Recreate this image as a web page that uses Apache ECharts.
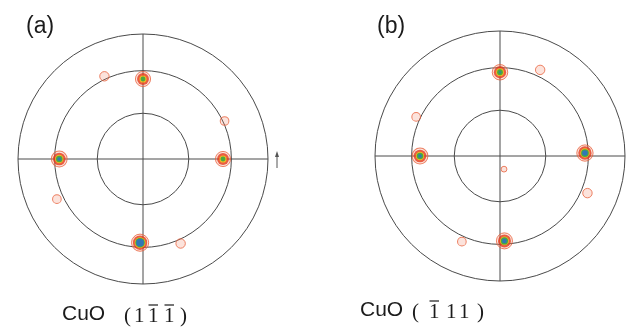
<!DOCTYPE html>
<html><head><meta charset="utf-8">
<script src="https://cdn.jsdelivr.net/npm/echarts@6/dist/echarts.min.js"></script>
<style>html,body{margin:0;padding:0;background:#fff}#c{width:631px;height:333px}</style>
</head><body><div id="c"></div>
<script>
// Pole figure (a): CuO (1 -1 -1) — radius in equal-area projected units (outer circle = 1), angle in degrees
const spotsA_r = [0.64, 0.67, 0.64, 0.67, 0.73, 0.72, 0.76, 0.74];
const spotsA_angle = [90, 180, 0, 268, 115, 25, 205, 294];
const spotsA_intensity = [6, 7, 6, 10, 2, 1.8, 1.8, 2];
// Pole figure (b): CuO (-1 1 1)
const spotsB_r = [0.67, 0.64, 0.68, 0.68, 0.76, 0.74, 0.76, 0.75, 0.11];
const spotsB_angle = [90, 180, 2, 273, 65, 155, 337, 246, 287];
const spotsB_intensity = [6.5, 7, 8, 7.5, 2, 1.8, 2, 1.8, 1.3];
// reference circles: psi = 90, 60, 30 deg in equal-area projection
const ringRadii = [1, 0.707, 0.366];
const panelLabels = ['(a)', '(b)'];
const compoundLabel = 'CuO';
// Miller indices: digits and whether each carries an overbar
const planeDigitsA = ['1', '1', '1'];
const planeBarsA = [false, true, true];
const planeDigitsB = ['1', '1', '1'];
const planeBarsB = [true, false, false];
// contour levels and colours
const contourLevels = [1, 2, 4, 5, 6.3];
const contourColors = ['rgba(242,128,98,0.28)', '#e5391c', '#f0cf1a', '#22a548', '#2b6ad2'];

const OUTER = 125;
const centers = [[143, 159], [500, 156]];
const sigma = 4;

const polar = [], angleAxis = [], radiusAxis = [], series = [];
const sets = [
  {r: spotsA_r, a: spotsA_angle, i: spotsA_intensity},
  {r: spotsB_r, a: spotsB_angle, i: spotsB_intensity}
];
sets.forEach((s, p) => {
  ringRadii.forEach((rr, k) => {
    polar.push({center: centers[p], radius: OUTER * rr});
    const idx = polar.length - 1;
    angleAxis.push({
      polarIndex: idx, type: 'value', min: 0, max: 360, interval: 90,
      startAngle: 0, clockwise: false,
      axisLine: {show: true, lineStyle: {color: '#4a4a4a', width: 1}},
      axisTick: {show: false}, axisLabel: {show: false},
      splitLine: {show: k === 0, lineStyle: {color: '#4a4a4a', width: 1}}
    });
    radiusAxis.push({polarIndex: idx, type: 'value', min: 0, max: 1, show: false});
  });
  const pIdx = p * ringRadii.length;
  const data = s.r.map((r, j) => [r, s.a[j], s.i[j]]);
  contourLevels.forEach((t, L) => {
    series.push({
      type: 'scatter', coordinateSystem: 'polar', polarIndex: pIdx,
      silent: true, animation: false, z: 3 + L,
      data: data.filter(d => d[2] > t),
      symbol: 'circle',
      symbolSize: v => 2 * sigma * Math.sqrt(2 * Math.log(v[2] / t)),
      itemStyle: L === 0
        ? {color: contourColors[0], borderColor: '#e9633f', borderWidth: 1}
        : {color: contourColors[L]}
    });
  });
});

const txt = '#1b1b1b';
const sansFont = '"Liberation Sans", Arial, sans-serif';
const serifFont = '"Liberation Serif", "Times New Roman", serif';
const graphic = [
  {type: 'text', left: 26, top: 15, style: {text: panelLabels[0], font: '23px ' + sansFont, fill: txt}},
  {type: 'text', left: 377, top: 15, style: {text: panelLabels[1], font: '23px ' + sansFont, fill: txt}},
  // small orientation arrow
  {type: 'line', shape: {x1: 277, y1: 168, x2: 277, y2: 154}, style: {stroke: '#555', lineWidth: 1}},
  {type: 'polygon', shape: {points: [[277, 151], [275, 157], [279, 157]]}, style: {fill: '#555'}}
];
function addPlaneLabel(top, cuoX, digits, bars, xs) {
  graphic.push({type: 'text', left: cuoX, top: top, style: {text: compoundLabel, font: '21px ' + sansFont, fill: txt}});
  graphic.push({type: 'text', left: xs[0], top: top + 2, style: {text: '(', font: '21px ' + serifFont, fill: txt}});
  digits.forEach((d, j) => {
    const x = xs[j + 1];
    graphic.push({type: 'text', left: x, top: top + 2, style: {text: d, font: '21px ' + serifFont, fill: txt}});
    if (bars[j]) {
      graphic.push({type: 'line', shape: {x1: x + 0.5, y1: top + 1, x2: x + 10, y2: top + 1}, style: {stroke: txt, lineWidth: 1.2}});
    }
  });
  graphic.push({type: 'text', left: xs[4], top: top + 2, style: {text: ')', font: '21px ' + serifFont, fill: txt}});
}
addPlaneLabel(304, 62, planeDigitsA, planeBarsA, [124, 134, 148, 164, 180]);
addPlaneLabel(300, 360, planeDigitsB, planeBarsB, [412, 429, 446, 459, 477]);

const chart = echarts.init(document.getElementById('c'), null, {renderer: 'canvas'});
chart.setOption({
  animation: false, backgroundColor: '#fff',
  polar, angleAxis, radiusAxis, series, graphic
});
</script></body></html>
